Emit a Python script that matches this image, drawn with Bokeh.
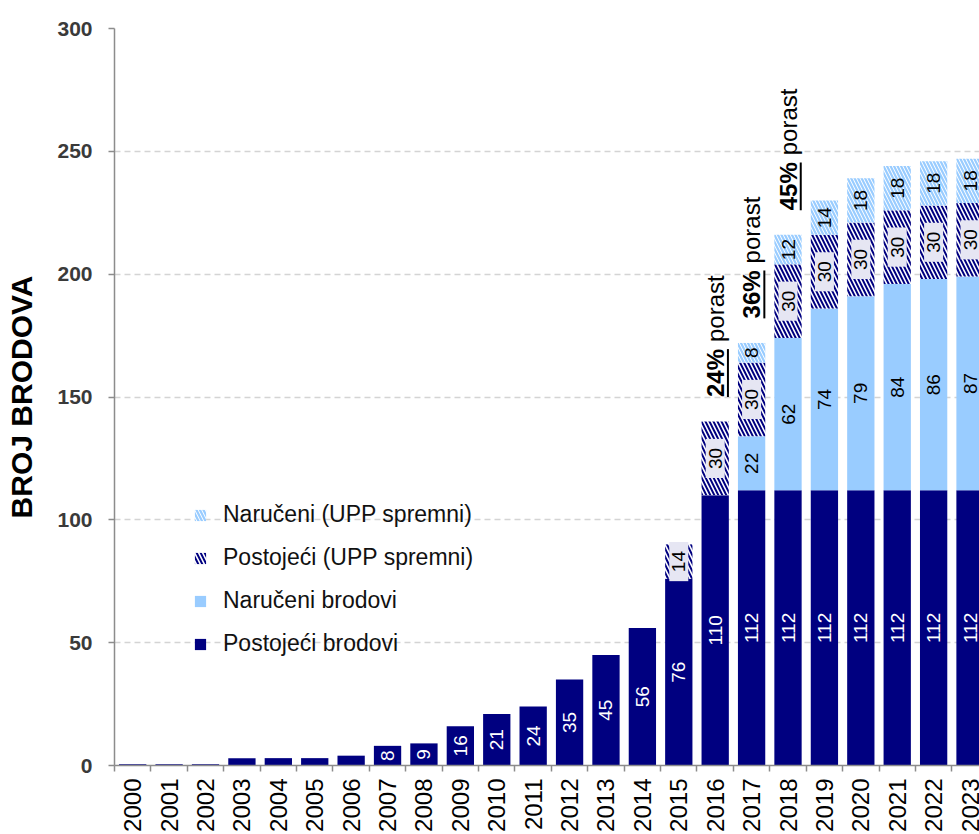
import numpy as np
from bokeh.plotting import figure
from bokeh.models import (ColumnDataSource, FixedTicker, Legend, LegendItem,
                          Range1d)
from bokeh.core.properties import value
from bokeh.embed import file_html
from bokeh.resources import INLINE

# ---------------- data ----------------
years = [2000, 2001, 2002, 2003, 2004, 2005, 2006, 2007, 2008, 2009, 2010, 2011,
         2012, 2013, 2014, 2015, 2016, 2017, 2018, 2019, 2020, 2021, 2022, 2023]
year_labels = ["2000", "2001", "2002", "2003", "2004", "2005", "2006", "2007",
               "2008", "2009", "2010", "2011", "2012", "2013", "2014", "2015",
               "2016", "2017", "2018", "2019", "2020", "2021", "2022", "2023"]
existing = [0.5, 0.5, 0.5, 3, 3, 3, 4, 8, 9, 16, 21, 24, 35, 45, 56, 76,
            110, 112, 112, 112, 112, 112, 112, 112]
ordered = [0, 0, 0, 0, 0, 0, 0, 0, 0, 0, 0, 0, 0, 0, 0, 0,
           0, 22, 62, 74, 79, 84, 86, 87]
existing_upp = [0, 0, 0, 0, 0, 0, 0, 0, 0, 0, 0, 0, 0, 0, 0, 14,
                30, 30, 30, 30, 30, 30, 30, 30]
ordered_upp = [0, 0, 0, 0, 0, 0, 0, 0, 0, 0, 0, 0, 0, 0, 0, 0,
               0, 8, 12, 14, 18, 18, 18, 18]
series_names = ["Postojeći brodovi", "Naručeni brodovi",
                "Postojeći (UPP spremni)", "Naručeni (UPP spremni)"]
y_ticks = [0, 50, 100, 150, 200, 250, 300]
growth_years = [2016, 2017, 2018]
growth_pct = ["24%", "36%", "45%"]
growth_word = "porast"

# ---------------- style ----------------
NAVY = "#000080"
LIGHT = "#99CCFF"
GREY = "#8c8c8c"
FONT = value("Liberation Sans")

e = np.array(existing, dtype=float)
t0 = e
t1 = t0 + np.array(ordered)
t2 = t1 + np.array(existing_upp)
t3 = t2 + np.array(ordered_upp)

src = ColumnDataSource(dict(x=years, t0=t0, t1=t1, t2=t2, t3=t3))

p = figure(width=979, height=834, x_range=Range1d(1999.5, 2023.26),
           y_range=Range1d(0, 300), output_backend="svg", toolbar_location=None,
           min_border_left=114, min_border_right=0, min_border_top=28,
           min_border_bottom=68)
p.outline_line_color = None
p.background_fill_color = "white"

r_ex = p.vbar(x="x", bottom=0, top="t0", width=0.75, fill_color=NAVY,
              line_color=None, source=src)
r_or = p.vbar(x="x", bottom="t0", top="t1", width=0.75, fill_color=LIGHT,
              line_color=None, source=src)
r_eu = p.vbar(x="x", bottom="t1", top="t2", width=0.75, fill_color="white",
              hatch_pattern="\\", hatch_color=NAVY, hatch_scale=8,
              hatch_weight=2, line_color=None, source=src)
r_ou = p.vbar(x="x", bottom="t2", top="t3", width=0.75, fill_color="white",
              hatch_pattern="\\", hatch_color=LIGHT, hatch_scale=7,
              hatch_weight=2.2, line_color=None, source=src)


def label_source(vals, lo, hi, minimum):
    xs, ys, ts = [], [], []
    for yr, v, a, b in zip(years, vals, lo, hi):
        if v >= minimum:
            xs.append(yr)
            ys.append((a + b) / 2.0)
            ts.append(str(int(v)))
    return ColumnDataSource(dict(x=xs, y=ys, text=ts))


common = dict(x="x", y="y", text="text", angle=np.pi / 2, text_align="center",
              text_baseline="middle", text_font=FONT, text_font_size="19px")
p.text(source=label_source(existing, np.zeros(len(years)), t0, 8),
       text_color="white", **common)
p.text(source=label_source(ordered, t0, t1, 1), text_color="black", **common)
p.text(source=label_source(existing_upp, t1, t2, 1), text_color="black",
       background_fill_color="#E6E6F3", padding=(9, 3), **common)
p.text(source=label_source(ordered_upp, t2, t3, 1), text_color="black", **common)

# growth annotations ("24%" bold and underlined, then "porast")
gidx = [years.index(g) for g in growth_years]
gx = np.array(growth_years, dtype=float)
gy = t3[gidx] + 10
p.text(x=gx, y=gy, text=growth_pct, angle=np.pi / 2, text_align="left",
       text_baseline="middle", text_font=FONT, text_font_size="24px",
       text_font_style="bold", text_color="black")
p.text(x=gx, y=gy, text=[growth_word] * len(gx), angle=np.pi / 2,
       text_align="left", text_baseline="middle", text_font=FONT,
       text_font_size="24px", text_color="black", y_offset=-55)
p.segment(x0=gx + 0.35, y0=gy, x1=gx + 0.35, y1=gy + 19.5,
          line_color="black", line_width=2)

# x axis: labels at bar centres, tick marks between categories
bounds = [y - 0.5 for y in years] + [years[-1] + 0.5]
p.xaxis.ticker = FixedTicker(ticks=years, minor_ticks=bounds)
p.xaxis.major_label_overrides = {y: lbl for y, lbl in zip(years, year_labels)}
p.xaxis.major_label_orientation = np.pi / 2
p.xaxis.major_label_standoff = 7
p.xaxis.major_label_text_font = "Liberation Sans"
p.xaxis.major_label_text_font_size = "24px"
p.xaxis.major_label_text_color = "black"
p.xaxis.major_tick_out = 6
p.xaxis.major_tick_in = 0
p.xaxis.major_tick_line_color = None
p.xaxis.minor_tick_out = 6
p.xaxis.minor_tick_in = 0
p.xaxis.minor_tick_line_color = GREY
p.xaxis.minor_tick_line_width = 1.5
p.xaxis.axis_line_color = GREY
p.xaxis.axis_line_width = 1.5
p.xgrid.visible = False

p.yaxis.ticker = FixedTicker(ticks=y_ticks)
p.yaxis.major_tick_out = 6
p.yaxis.major_tick_in = 0
p.yaxis.minor_tick_line_color = None
p.yaxis.major_tick_line_color = GREY
p.yaxis.major_tick_line_width = 1.5
p.yaxis.axis_line_color = GREY
p.yaxis.axis_line_width = 1.5
p.yaxis.major_label_standoff = 16
p.yaxis.major_label_text_font = "Liberation Sans"
p.yaxis.major_label_text_font_size = "21px"
p.yaxis.major_label_text_font_style = "bold"
p.yaxis.major_label_text_color = "#3a3a3a"
p.yaxis.axis_label = "BROJ BRODOVA"
p.yaxis.axis_label_text_font = "Liberation Sans"
p.yaxis.axis_label_text_font_size = "30px"
p.yaxis.axis_label_text_font_style = "bold"
p.yaxis.axis_label_text_color = "black"
p.yaxis.axis_label_standoff = 16
p.ygrid.ticker = FixedTicker(ticks=y_ticks)
p.ygrid.grid_line_color = "#d4d4d4"
p.ygrid.grid_line_dash = "6 4"
p.ygrid.grid_line_width = 1.5

legend = Legend(items=[LegendItem(label=series_names[3], renderers=[r_ou]),
                       LegendItem(label=series_names[2], renderers=[r_eu]),
                       LegendItem(label=series_names[1], renderers=[r_or]),
                       LegendItem(label=series_names[0], renderers=[r_ex])],
                location=(79, 108), margin=0, padding=5, spacing=16,
                glyph_width=14, glyph_height=14, label_standoff=16,
                label_height=27, label_text_font="Liberation Sans",
                label_text_font_size="23px", label_text_color="#111111",
                border_line_color=None, background_fill_alpha=0)
p.add_layout(legend)

open("out.html", "w").write(file_html(p, INLINE))
